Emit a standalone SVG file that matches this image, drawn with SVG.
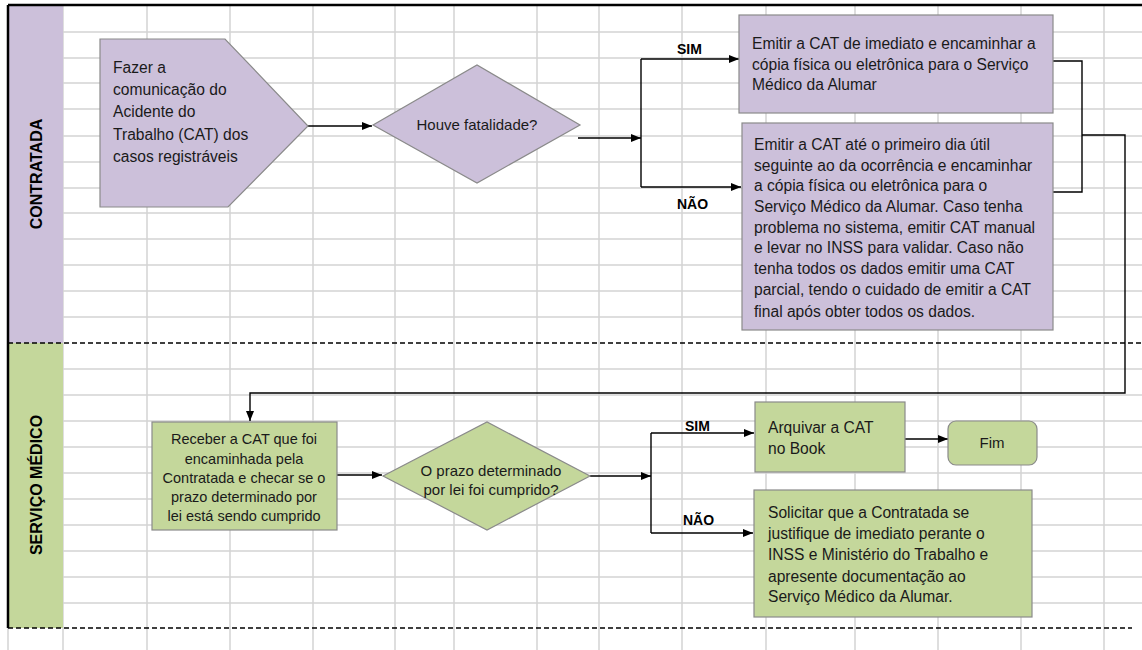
<svg xmlns="http://www.w3.org/2000/svg" width="1142" height="650" viewBox="0 0 1142 650">
<style>
.grid{stroke:#D4D4D4;stroke-width:1.5;fill:none}
.t{font-family:"Liberation Sans",Arial,sans-serif;font-size:15.6px;fill:#1a1a1a}
.d{font-family:"Liberation Sans",Arial,sans-serif;font-size:15px;fill:#1a1a1a}
.g{font-family:"Liberation Sans",Arial,sans-serif;font-size:14.5px;fill:#1a1a1a}
.lbl{font-family:"Liberation Sans",Arial,sans-serif;font-size:14px;font-weight:bold;fill:#000}
.lane{font-family:"Liberation Sans",Arial,sans-serif;font-size:16px;font-weight:bold;fill:#000}
.p{fill:#CCC0DA;stroke:#8A8A8A;stroke-width:1.2}
.gr{fill:#C4D79B;stroke:#8A8A8A;stroke-width:1.2}
.c{stroke:#000;stroke-width:1.4;fill:none}
.dash{stroke:#000;stroke-width:1.4;stroke-dasharray:5,3;fill:none}
</style>
<defs>
<marker id="ah" markerWidth="10" markerHeight="8" refX="10" refY="4" orient="auto" markerUnits="userSpaceOnUse">
<path d="M0,0 L10,4 L0,8 Z" fill="#000"/>
</marker>
</defs>
<rect width="1142" height="650" fill="#fff"/>
<g id="grid" class="grid">
<path d="M63,5V650M147,5V650M230,5V650M313,5V650M395,5V650M454,5V650M537,5V650M599,5V650M682,5V650M766,5V650M855,5V650M938,5V650M1021,5V650M1104,5V650M8,628V650"/>
<path d="M63,32H1142M63,58H1142M63,83H1142M63,109H1142M63,136H1142M63,162H1142M63,188H1142M63,213H1142M63,239H1142M63,265H1142M63,291H1142M63,317H1142M63,369H1142M63,395H1142M63,421H1142M63,447H1142M63,473H1142M63,499H1142M63,525H1142M63,551H1142M63,577H1142M63,603H1142"/>
</g>
<g id="lanes">
<rect x="8" y="5" width="55" height="338" fill="#CCC0DA"/>
<rect x="8" y="343" width="55" height="285" fill="#C4D79B"/>
<path d="M8,5H1142" stroke="#000" stroke-width="2.5"/>
<path d="M8,5V628" stroke="#000" stroke-width="2.5"/>
<path class="dash" d="M8,343H1142"/>
<path class="dash" d="M8,628H1132"/>
<text class="lane" transform="translate(42,174) rotate(-90)" text-anchor="middle">CONTRATADA</text>
<text class="lane" transform="translate(42,485) rotate(-90)" text-anchor="middle">SERVIÇO MÉDICO</text>
</g>
<g id="connectors">
<path class="c" d="M308,126H372" marker-end="url(#ah)"/>
<path class="c" d="M578,138H641" marker-end="url(#ah)"/>
<path class="c" d="M641,59V187"/>
<path class="c" d="M641,59H739" marker-end="url(#ah)"/>
<path class="c" d="M641,187H741" marker-end="url(#ah)"/>
<path class="c" d="M1053,61H1082V192H1053"/>
<path class="c" d="M1082,135H1125V393H250V421" marker-end="url(#ah)"/>
<path class="c" d="M337,475H382" marker-end="url(#ah)"/>
<path class="c" d="M590,476H651" marker-end="url(#ah)"/>
<path class="c" d="M651,433V533"/>
<path class="c" d="M651,433H754" marker-end="url(#ah)"/>
<path class="c" d="M651,533H753" marker-end="url(#ah)"/>
<path class="c" d="M905,439H948" marker-end="url(#ah)"/>
<text class="lbl" x="677" y="54">SIM</text>
<text class="lbl" x="677" y="209">NÃO</text>
<text class="lbl" x="685" y="431">SIM</text>
<text class="lbl" x="683" y="525">NÃO</text>
</g>
<g id="n1">
<polygon class="p" points="100,39 225,39 308,126 228,207 100,207"/>
<text class="t" x="113" y="73">Fazer a</text>
<text class="t" x="113" y="95">comunicação do</text>
<text class="t" x="113" y="117">Acidente do</text>
<text class="t" x="113" y="140">Trabalho (CAT) dos</text>
<text class="t" x="113" y="162">casos registráveis</text>
</g>
<g id="n2">
<polygon class="p" points="373,125 477,65 580,125 477,183"/>
<text class="d" x="477" y="130" text-anchor="middle">Houve fatalidade?</text>
</g>
<g id="n3">
<rect class="p" x="739" y="15" width="314" height="98"/>
<text class="t" x="752" y="49">Emitir a CAT de imediato e encaminhar a</text>
<text class="t" x="752" y="70">cópia física ou eletrônica para o Serviço</text>
<text class="t" x="752" y="90">Médico da Alumar</text>
</g>
<g id="n4">
<rect class="p" x="742" y="123" width="311" height="207"/>
<text class="t" x="754" y="150">Emitir a CAT até o primeiro dia útil</text>
<text class="t" x="754" y="171">seguinte ao da ocorrência e encaminhar</text>
<text class="t" x="754" y="191">a cópia física ou eletrônica para o</text>
<text class="t" x="754" y="212">Serviço Médico da Alumar. Caso tenha</text>
<text class="t" x="754" y="233">problema no sistema, emitir CAT manual</text>
<text class="t" x="754" y="253">e levar no INSS para validar. Caso não</text>
<text class="t" x="754" y="274">tenha  todos os dados emitir uma CAT</text>
<text class="t" x="754" y="295">parcial, tendo o cuidado de emitir a CAT</text>
<text class="t" x="754" y="317">final após obter todos os dados.</text>
</g>
<g id="n5">
<rect class="gr" x="152" y="422" width="185" height="108"/>
<text class="g" x="244" y="444" text-anchor="middle">Receber a CAT que foi</text>
<text class="g" x="244" y="464" text-anchor="middle">encaminhada pela</text>
<text class="g" x="244" y="483" text-anchor="middle">Contratada e checar se o</text>
<text class="g" x="244" y="502" text-anchor="middle">prazo determinado por</text>
<text class="g" x="244" y="521" text-anchor="middle">lei está sendo cumprido</text>
</g>
<g id="n6">
<polygon class="gr" points="383,476 487,422 590,476 487,530"/>
<text class="d" x="491" y="476" text-anchor="middle">O prazo determinado</text>
<text class="d" x="491" y="495" text-anchor="middle">por lei foi cumprido?</text>
</g>
<g id="n7">
<rect class="gr" x="755" y="402" width="150" height="70"/>
<text class="t" x="768" y="433">Arquivar a CAT</text>
<text class="t" x="768" y="454">no Book</text>
</g>
<g id="n8">
<rect class="gr" x="948" y="421" width="89" height="44" rx="8"/>
<text class="d" x="992" y="448" text-anchor="middle">Fim</text>
</g>
<g id="n9">
<rect class="gr" x="754" y="490" width="278" height="127"/>
<text class="t" x="768" y="518">Solicitar que a Contratada se</text>
<text class="t" x="768" y="539">justifique de imediato perante o</text>
<text class="t" x="768" y="560">INSS e Ministério do Trabalho e</text>
<text class="t" x="768" y="582">apresente documentação ao</text>
<text class="t" x="768" y="602">Serviço Médico da Alumar.</text>
</g>
</svg>
